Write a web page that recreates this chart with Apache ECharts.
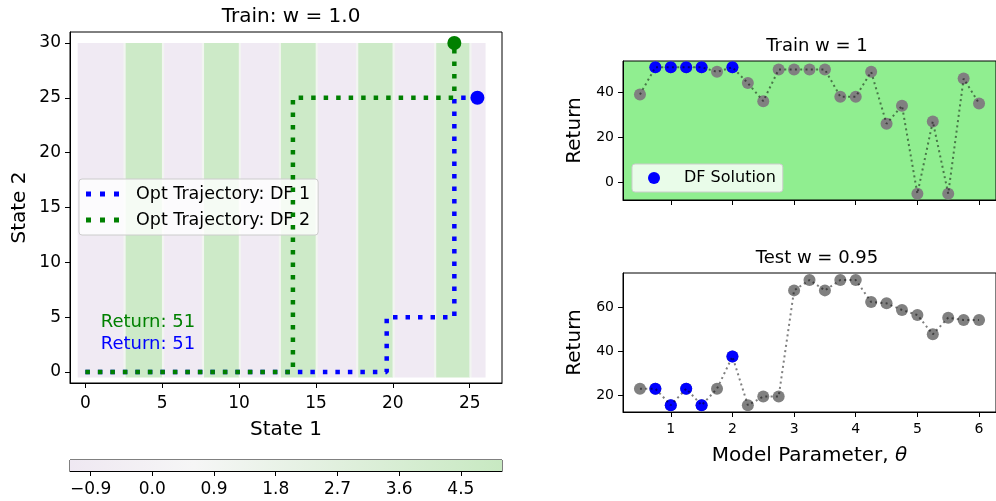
<!DOCTYPE html>
<html>
<head>
<meta charset="utf-8">
<script src="https://cdn.jsdelivr.net/npm/echarts@6/dist/echarts.min.js"></script>
<style>
html,body{margin:0;padding:0;background:#fff;}
#chart{width:996px;height:501px;}
</style>
</head>
<body>
<div id="chart"></div>
<script>
// ---------- data ----------
const theta = [0.5, 0.75, 1, 1.25, 1.5, 1.75, 2, 2.25, 2.5, 2.75, 3, 3.25, 3.5, 3.75, 4, 4.25, 4.5, 4.75, 5, 5.25, 5.5, 5.75, 6];
const trainReturn = [39, 51, 51, 51, 51, 49, 51, 44, 36, 50, 50, 50, 50, 38, 38, 49, 26, 34, -5, 27, -5, 46, 35];
const testReturn = [23, 23, 15.5, 23, 15.5, 23, 37.6, 15.5, 19.4, 19.4, 67.7, 72.4, 67.7, 72.4, 72.4, 62.4, 61.8, 58.8, 56.5, 47.7, 55.3, 54.2, 54.2];
const dfTheta = [0.75, 1, 1.25, 1.5, 2];

const traj1X = [0, 19.6, 19.6, 24, 24, 25.5];
const traj1Y = [0, 0, 5, 5, 25, 25];
const traj2X = [0, 13.5, 13.5, 24, 24];
const traj2Y = [0, 0, 25, 25, 30];

const stripeEdges = [-0.5, 2.48, 2.62, 4.98, 5.12, 7.58, 7.72, 9.98, 10.12, 12.58, 12.72, 14.98, 15.12, 17.61, 17.75, 19.98, 20.12, 22.68, 22.82, 24.98, 25.12, 26.0];
const stripeValues = [-0.9, 1.0, 4.6, 1.0, -0.9, 1.0, 4.6, 1.0, -0.9, 1.0, 4.6, 1.0, -0.9, 1.0, 4.6, 1.0, -0.9, 1.0, 4.6, 1.0, -0.9];
const stripeYRange = [-0.5, 30];

const colorbarRange = [-1.2, 5.1];
const colorbarTicks = [-0.9, 0.0, 0.9, 1.8, 2.7, 3.6, 4.5];

const annotX = [1, 1];
const annotY = [4, 2];
const annotText = ['Return: 51', 'Return: 51'];

const leftXTicks = [0, 5, 10, 15, 20, 25];
const leftYTicks = [0, 5, 10, 15, 20, 25, 30];
const thetaTicks = [1, 2, 3, 4, 5, 6];
const trainTicks = [0, 20, 40];
const testTicks = [20, 40, 60];

// ---------- colormap ----------
const cmapStops = [[-1.2, [239, 232, 242]], [0.6, [246, 246, 246]], [5.1, [200, 233, 194]]];
function cmap(v) {
  if (v <= cmapStops[0][0]) return 'rgb(' + cmapStops[0][1].join(',') + ')';
  for (let i = 1; i < cmapStops.length; i++) {
    if (v <= cmapStops[i][0]) {
      const a = cmapStops[i - 1], b = cmapStops[i];
      const t = (v - a[0]) / (b[0] - a[0]);
      const c = a[1].map((x, k) => Math.round(x + (b[1][k] - x) * t));
      return 'rgb(' + c.join(',') + ')';
    }
  }
  return 'rgb(' + cmapStops[cmapStops.length - 1][1].join(',') + ')';
}

const FONT = 'DejaVu Sans';
const axisCommon = {
  axisLine: { show: true, onZero: false, lineStyle: { color: '#000', width: 1 } },
  axisTick: { show: true, length: 5, lineStyle: { color: '#000', width: 1 } },
  splitLine: { show: false },
};

function mkAxis(o) {
  return Object.assign({ type: 'value' }, JSON.parse(JSON.stringify(axisCommon)), o);
}

const stripeData = stripeValues.map((v, i) => [stripeEdges[i], stripeEdges[i + 1], v]);
const dotIcon = 'path://M0,0h5v5h-5zM14,0h5v5h-5zM28,0h5v5h-5z';

const option = {
  animation: false,
  backgroundColor: '#fff',
  textStyle: { fontFamily: FONT },
  title: [
    { text: 'Train: w = 1.0', left: 286, top: 2, textAlign: 'center', textStyle: { fontFamily: FONT, fontSize: 20, fontWeight: 'normal', color: '#000' } },
    { text: 'Train w = 1', left: 812, top: 32, textAlign: 'center', textStyle: { fontFamily: FONT, fontSize: 18, fontWeight: 'normal', color: '#000' } },
    { text: 'Test w = 0.95', left: 812, top: 244, textAlign: 'center', textStyle: { fontFamily: FONT, fontSize: 18, fontWeight: 'normal', color: '#000' } },
  ],
  grid: [
    { left: 70, top: 32, width: 432, height: 351, show: true, borderColor: '#000', borderWidth: 1, backgroundColor: '#fff' },
    { left: 70, top: 460, width: 432, height: 11, show: true, borderColor: '#000', borderWidth: 1 },
    { left: 623, top: 61, width: 378, height: 139, show: true, borderColor: '#000', borderWidth: 1, backgroundColor: '#90ee90' },
    { left: 623, top: 273, width: 378, height: 139, show: true, borderColor: '#000', borderWidth: 1 },
  ],
  legend: [
    {
      data: [{ name: 'Opt Trajectory: DF 1', icon: dotIcon }, { name: 'Opt Trajectory: DF 2', icon: dotIcon }],
      orient: 'vertical', left: 79, top: 179,
      padding: [6, 8, 6, 7], itemGap: 8, itemWidth: 33, itemHeight: 5,
      backgroundColor: 'rgba(255,255,255,0.8)', borderColor: '#cccccc', borderWidth: 1, borderRadius: 3,
      textStyle: { fontFamily: FONT, fontSize: 17.5, color: '#000', padding: [0, 0, 0, 12] },
    },
    {
      data: [{ name: 'DF Solution', icon: 'circle' }],
      orient: 'vertical', left: 632, top: 164,
      padding: [6, 7, 6, 16], itemWidth: 12, itemHeight: 12,
      backgroundColor: 'rgba(255,255,255,0.8)', borderColor: '#cccccc', borderWidth: 1, borderRadius: 3,
      textStyle: { fontFamily: FONT, fontSize: 16, color: '#000', padding: [0, 0, 0, 19] },
    },
  ],
  xAxis: [
    mkAxis({ gridIndex: 0, min: -1, max: 27.1,
      axisTick: { show: true, length: 5, customValues: leftXTicks, lineStyle: { color: '#000' } },
      axisLabel: { customValues: leftXTicks, fontSize: 17, color: '#000', fontFamily: FONT, margin: 12 },
      name: 'State 1', nameLocation: 'middle', nameGap: 37, nameTextStyle: { fontSize: 20, color: '#000', fontFamily: FONT } }),
    mkAxis({ gridIndex: 1, min: colorbarRange[0], max: colorbarRange[1],
      axisTick: { show: true, length: 5, customValues: colorbarTicks, lineStyle: { color: '#000' } },
      axisLabel: { customValues: colorbarTicks, fontSize: 17, color: '#000', fontFamily: FONT, margin: 10,
        formatter: v => (v < 0 ? '\u2212' : '') + Math.abs(v).toFixed(1) } }),
    mkAxis({ gridIndex: 2, min: 0.225, max: 6.275,
      axisTick: { show: true, length: 5, customValues: thetaTicks, lineStyle: { color: '#000' } },
      axisLabel: { show: false } }),
    mkAxis({ gridIndex: 3, min: 0.225, max: 6.275,
      axisTick: { show: true, length: 5, customValues: thetaTicks, lineStyle: { color: '#000' } },
      axisLabel: { customValues: thetaTicks, fontSize: 14, color: '#000', fontFamily: FONT, margin: 10 },
      name: 'Model Parameter, {i|\u03b8}', nameLocation: 'middle', nameGap: 34,
      nameTextStyle: { fontSize: 20, color: '#000', fontFamily: FONT,
        rich: { i: { fontSize: 20, fontStyle: 'italic', fontFamily: FONT, color: '#000' } } } }),
  ],
  yAxis: [
    mkAxis({ gridIndex: 0, min: -1, max: 31,
      axisTick: { show: true, length: 5, customValues: leftYTicks, lineStyle: { color: '#000' } },
      axisLabel: { customValues: leftYTicks, fontSize: 17, color: '#000', fontFamily: FONT, margin: 9 },
      name: 'State 2', nameLocation: 'middle', nameGap: 40, nameTextStyle: { fontSize: 20, color: '#000', fontFamily: FONT } }),
    { type: 'value', gridIndex: 1, min: 0, max: 1, show: false },
    mkAxis({ gridIndex: 2, min: -7.8, max: 53.8,
      axisTick: { show: true, length: 5, customValues: trainTicks, lineStyle: { color: '#000' } },
      axisLabel: { customValues: trainTicks, fontSize: 14, color: '#000', fontFamily: FONT, margin: 9 },
      name: 'Return', nameLocation: 'middle', nameGap: 38, nameTextStyle: { fontSize: 20, color: '#000', fontFamily: FONT } }),
    mkAxis({ gridIndex: 3, min: 12.4, max: 75.6,
      axisTick: { show: true, length: 5, customValues: testTicks, lineStyle: { color: '#000' } },
      axisLabel: { customValues: testTicks, fontSize: 14, color: '#000', fontFamily: FONT, margin: 9 },
      name: 'Return', nameLocation: 'middle', nameGap: 38, nameTextStyle: { fontSize: 20, color: '#000', fontFamily: FONT } }),
  ],
  series: [
    // background stripes
    {
      type: 'custom', xAxisIndex: 0, yAxisIndex: 0, z: 0, silent: true,
      data: stripeData,
      encode: { x: [0, 1] },
      renderItem: function (params, api) {
        const p0 = api.coord([api.value(0), stripeYRange[1]]);
        const p1 = api.coord([api.value(1), stripeYRange[0]]);
        return { type: 'rect', shape: { x: p0[0], y: p0[1], width: p1[0] - p0[0] + 0.5, height: p1[1] - p0[1] },
          style: { fill: cmap(api.value(2)) } };
      },
    },
    {
      name: 'Opt Trajectory: DF 1', type: 'line', xAxisIndex: 0, yAxisIndex: 0, z: 3,
      data: traj1X.map((x, i) => [x, traj1Y[i]]), showSymbol: false, symbol: 'none',
      lineStyle: { color: '#0000ff', width: 4.5, type: [4.5, 8], cap: 'butt' }, itemStyle: { color: '#0000ff' },
    },
    {
      name: 'Opt Trajectory: DF 2', type: 'line', xAxisIndex: 0, yAxisIndex: 0, z: 4,
      data: traj2X.map((x, i) => [x, traj2Y[i]]), showSymbol: false, symbol: 'none',
      lineStyle: { color: '#008000', width: 4.5, type: [4.5, 8], cap: 'butt' }, itemStyle: { color: '#008000' },
    },
    {
      type: 'scatter', xAxisIndex: 0, yAxisIndex: 0, z: 5, symbolSize: 14,
      data: [[traj1X[traj1X.length - 1], traj1Y[traj1Y.length - 1]]], itemStyle: { color: '#0000ff', opacity: 1 },
    },
    {
      type: 'scatter', xAxisIndex: 0, yAxisIndex: 0, z: 5, symbolSize: 14,
      data: [[traj2X[traj2X.length - 1], traj2Y[traj2Y.length - 1]]], itemStyle: { color: '#008000', opacity: 1 },
    },
    {
      type: 'custom', xAxisIndex: 0, yAxisIndex: 0, z: 6, silent: true,
      data: annotX.map((x, i) => [x, annotY[i], i]),
      renderItem: function (params, api) {
        const p = api.coord([api.value(0), api.value(1)]);
        const cols = ['#008000', '#0000ff'];
        const i = api.value(2);
        return { type: 'text', x: p[0], y: p[1] - 6,
          style: { text: annotText[i], fill: cols[i], font: '18px "DejaVu Sans"', align: 'left', verticalAlign: 'middle' } };
      },
    },
    // colorbar
    {
      type: 'custom', xAxisIndex: 1, yAxisIndex: 1, z: 1, silent: true,
      data: [[colorbarRange[0], colorbarRange[1]]],
      encode: { x: [0, 1] },
      renderItem: function (params, api) {
        const a = api.value(0), b = api.value(1);
        const p0 = api.coord([a, 1]);
        const p1 = api.coord([b, 0]);
        const stops = cmapStops.map(s => ({ offset: (s[0] - a) / (b - a), color: cmap(s[0]) }));
        return { type: 'rect', shape: { x: p0[0], y: p0[1], width: p1[0] - p0[0], height: p1[1] - p0[1] },
          style: { fill: new echarts.graphic.LinearGradient(0, 0, 1, 0, stops) } };
      },
    },
    // right top
    {
      type: 'scatter', xAxisIndex: 2, yAxisIndex: 2, z: 2, symbolSize: 12,
      data: theta.map((t, i) => [t, trainReturn[i]]), itemStyle: { color: '#808080', opacity: 1 },
    },
    {
      name: 'DF Solution', type: 'scatter', xAxisIndex: 2, yAxisIndex: 2, z: 3, symbolSize: 12,
      data: dfTheta.map(t => [t, trainReturn[theta.indexOf(t)]]), itemStyle: { color: '#0000ff', opacity: 1 },
    },
    {
      type: 'line', xAxisIndex: 2, yAxisIndex: 2, z: 4, showSymbol: false, symbol: 'none', silent: true,
      data: theta.map((t, i) => [t, trainReturn[i]]),
      lineStyle: { color: 'rgba(0,0,0,0.5)', width: 2, type: [2, 3.3], cap: 'butt' },
    },
    // right bottom
    {
      type: 'scatter', xAxisIndex: 3, yAxisIndex: 3, z: 2, symbolSize: 12,
      data: theta.map((t, i) => [t, testReturn[i]]), itemStyle: { color: '#808080', opacity: 1 },
    },
    {
      type: 'scatter', xAxisIndex: 3, yAxisIndex: 3, z: 3, symbolSize: 12,
      data: dfTheta.map(t => [t, testReturn[theta.indexOf(t)]]), itemStyle: { color: '#0000ff', opacity: 1 },
    },
    {
      type: 'line', xAxisIndex: 3, yAxisIndex: 3, z: 4, showSymbol: false, symbol: 'none', silent: true,
      data: theta.map((t, i) => [t, testReturn[i]]),
      lineStyle: { color: 'rgba(0,0,0,0.5)', width: 2, type: [2, 3.3], cap: 'butt' },
    },
  ],
};

const chart = echarts.init(document.getElementById('chart'), null, { renderer: 'canvas' });
chart.setOption(option);
</script>
</body>
</html>
